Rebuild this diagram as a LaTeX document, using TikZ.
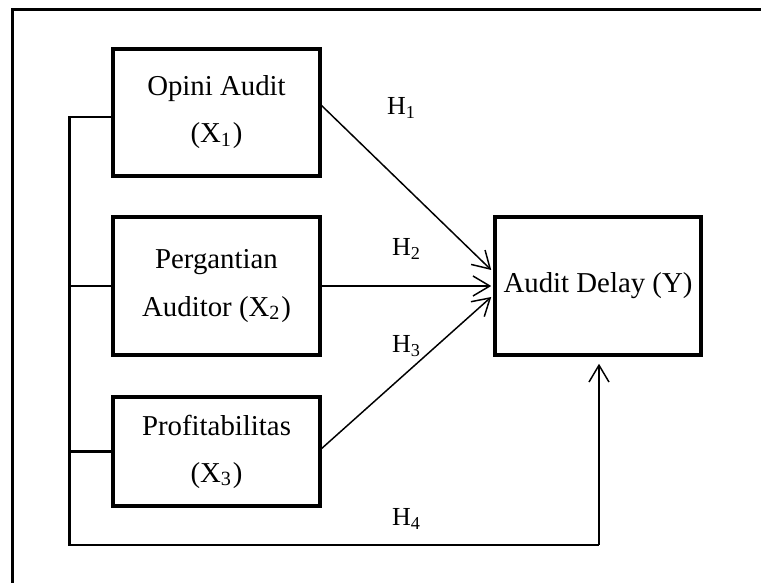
\documentclass[tikz,border=0pt]{standalone}
\usepackage{fontspec}
\setmainfont{Liberation Serif}
\usepackage{tikz}
\usetikzlibrary{arrows.meta}

\begin{document}
\begin{tikzpicture}[main/.style = {draw, line width=1pt, minimum width=2.07cm, inner sep=0pt, align=center, font=\fontsize{8.2}{13.4}\selectfont},
	hyp/.style = {font=\fontsize{7.4}{8}\selectfont},
	link/.style = {line width=0.42pt, -{Straight Barb[length=4.8pt, width=5.7pt]}},
	bus/.style = {line width=0.75pt}]

	\useasboundingbox (0, 0) rectangle (7.61, 5.83);

	% outer frame
	\draw[line width=0.8pt] (0.125, 0) -- (0.125, 5.735) -- (7.61, 5.735);

	\node[main, minimum height=1.27cm] (X1) at (2.165, 4.705) {Opini Audit\\(X\textsubscript{1})};
	\node[main, minimum height=1.38cm] (X2) at (2.165, 2.97) {Pergantian\\Auditor (X\textsubscript{2})};
	\node[main, minimum height=1.09cm] (X3) at (2.165, 1.315) {Profitabilitas\\(X\textsubscript{3})};
	\node[main, minimum width=2.06cm, minimum height=1.38cm] (Y) at (5.98, 2.97) {Audit Delay (Y)};

	\draw[link] (3.2, 4.79) -- ([yshift=0.16cm, xshift=-0.02cm]Y.west);
	\draw[link] (X2.east) -- ([xshift=-0.02cm]Y.west);
	\draw[link] (3.2, 1.33) -- ([yshift=-0.11cm, xshift=-0.02cm]Y.west);

	\node[hyp] (H1) at (4.02, 4.75) {H\textsubscript{1}};
	\node[hyp] (H2) at (4.07, 3.34) {H\textsubscript{2}};
	\node[hyp] (H3) at (4.07, 2.37) {H\textsubscript{3}};
	\node[hyp] (H4) at (4.07, 0.64) {H\textsubscript{4}};

	% joint path of the three variables
	\coordinate (top) at (0.695, 4.66);
	\coordinate (low) at (0.695, 0.38);
	\coordinate (turn) at (5.99, 0.38);

	\draw[bus] (X1.west |- top) -- (top) -- (low) -- (turn);
	\draw[bus] (top |- X2.west) -- (X2.west);
	\draw[bus] (top |- X3.west) -- (X3.west);
	\draw[link, shorten >=0.07cm] (turn) -- (turn |- Y.south);

\end{tikzpicture}
\end{document}
